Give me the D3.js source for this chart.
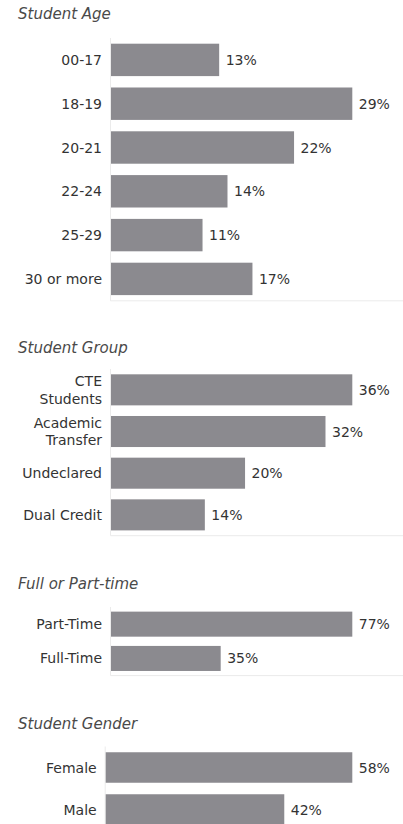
<!DOCTYPE html>
<html>
<head>
<meta charset="utf-8">
<script src="https://cdn.jsdelivr.net/npm/d3@7"></script>
<style>
  html, body { margin: 0; padding: 0; background: #fff; }
  svg { display: block; }
</style>
</head>
<body>
<svg id="chart" width="403" height="824"></svg>
<script>
// Student profile: four small horizontal bar panels
const ageCategories = ["00-17", "18-19", "20-21", "22-24", "25-29", "30 or more"];
const ageValues = [13, 29, 22, 14, 11, 17];

const groupCategories = ["CTE|Students", "Academic|Transfer", "Undeclared", "Dual Credit"];
const groupValues = [36, 32, 20, 14];

const loadCategories = ["Part-Time", "Full-Time"];
const loadValues = [77, 35];

const genderCategories = ["Female", "Male"];
const genderValues = [58, 42];

const panelTitles = ["Student Age", "Student Group", "Full or Part-time", "Student Gender"];

// layout for each panel: title baseline, band range, bar start x, padding
const panels = [
  { title: panelTitles[0], cats: ageCategories, vals: ageValues, titleY: 19, y0: 38, y1: 300.8, x0: 111, pad: 0.26 },
  { title: panelTitles[1], cats: groupCategories, vals: groupValues, titleY: 352.5, y0: 369, y1: 535.7, x0: 111, pad: 0.255 },
  { title: panelTitles[2], cats: loadCategories, vals: loadValues, titleY: 589, y0: 607, y1: 675.6, x0: 111, pad: 0.27 },
  { title: panelTitles[3], cats: genderCategories, vals: genderValues, titleY: 729, y0: 746.5, y1: 830.5, x0: 105.7, pad: 0.274 }
];

const svg = d3.select("#chart");
const font = "'DejaVu Sans', Verdana, sans-serif";
const barColor = "#8b8a8f";
const textColor = "#333333";
const ruleColor = "#ebebeb";
const xEnd = 352.3;

panels.forEach(p => {
  const g = svg.append("g");

  g.append("text")
    .attr("x", 18)
    .attr("y", p.titleY)
    .attr("font-family", font)
    .attr("font-style", "italic")
    .attr("font-size", 15)
    .attr("fill", "#4a4a4a")
    .text(p.title);

  const y = d3.scaleBand()
    .domain(p.cats)
    .range([p.y0, p.y1])
    .paddingInner(p.pad)
    .paddingOuter(p.pad / 2);

  const x = d3.scaleLinear()
    .domain([0, d3.max(p.vals)])
    .range([p.x0, xEnd]);

  // faint axis rules
  g.append("line")
    .attr("x1", p.x0 - 0.5).attr("x2", p.x0 - 0.5)
    .attr("y1", p.y0).attr("y2", p.y1)
    .attr("stroke", ruleColor).attr("stroke-width", 1);
  g.append("line")
    .attr("x1", p.x0 - 0.5).attr("x2", 403)
    .attr("y1", p.y1).attr("y2", p.y1)
    .attr("stroke", ruleColor).attr("stroke-width", 1);

  const rows = p.cats.map((c, i) => ({ cat: c, val: p.vals[i] }));

  g.selectAll("rect.bar")
    .data(rows)
    .join("rect")
    .attr("class", "bar")
    .attr("x", x(0))
    .attr("y", d => y(d.cat))
    .attr("width", d => x(d.val) - x(0))
    .attr("height", y.bandwidth())
    .attr("fill", barColor);

  // value labels
  g.selectAll("text.val")
    .data(rows)
    .join("text")
    .attr("class", "val")
    .attr("x", d => x(d.val) + 6.5)
    .attr("y", d => y(d.cat) + y.bandwidth() / 2)
    .attr("dy", "0.36em")
    .attr("font-family", font)
    .attr("font-size", 14)
    .attr("fill", textColor)
    .text(d => d.val + "%");

  // category labels (may wrap onto two lines)
  const labels = g.selectAll("text.cat")
    .data(rows)
    .join("text")
    .attr("class", "cat")
    .attr("text-anchor", "end")
    .attr("font-family", font)
    .attr("font-size", 14)
    .attr("fill", textColor);

  labels.each(function (d) {
    const lines = d.cat.split("|");
    const cy = y(d.cat) + y.bandwidth() / 2;
    const lh = 17.7;
    const t = d3.select(this);
    lines.forEach((ln, k) => {
      t.append("tspan")
        .attr("x", p.x0 - 9)
        .attr("y", cy + (k - (lines.length - 1) / 2) * lh)
        .attr("dy", "0.36em")
        .text(ln);
    });
  });
});
</script>
</body>
</html>
